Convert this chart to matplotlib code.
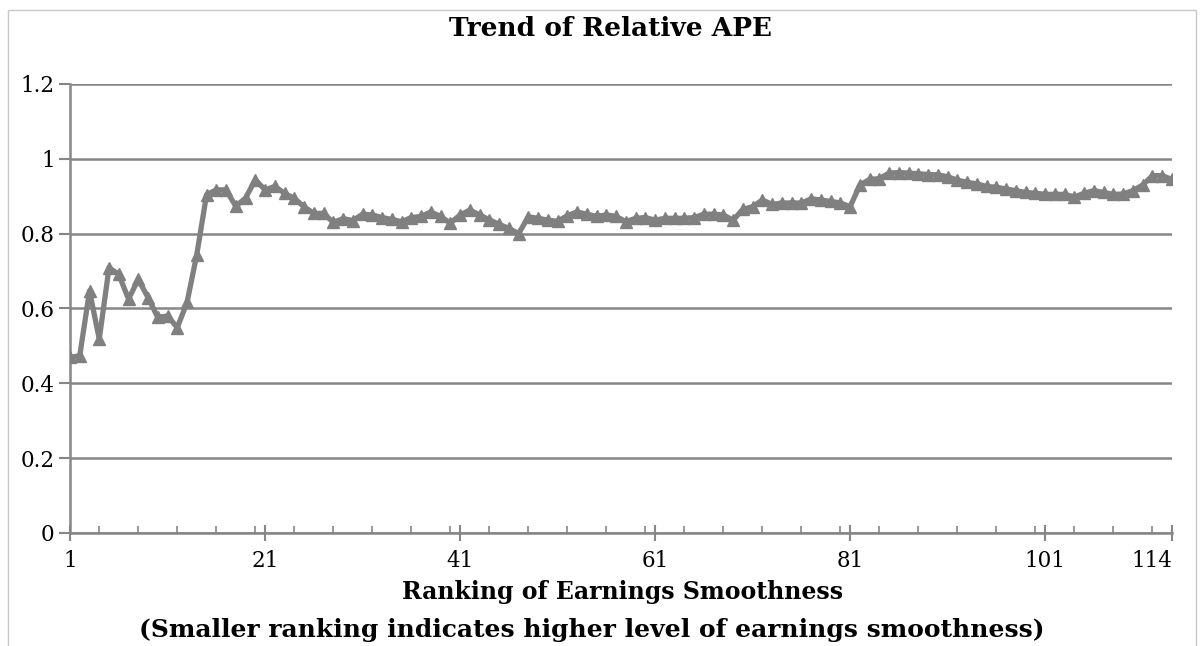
import matplotlib
matplotlib.use("Agg")
import matplotlib.pyplot as plt
from matplotlib.ticker import MultipleLocator
from matplotlib.patches import Rectangle

# relative APE by smoothness ranking (1 = smoothest)
rank = list(range(1, 115))
rel_ape = [
    0.469, 0.474, 0.647, 0.518, 0.709, 0.691, 0.625, 0.678, 0.629, 0.576,
    0.580, 0.549, 0.616, 0.744, 0.904, 0.917, 0.917, 0.873, 0.895, 0.944,
    0.917, 0.926, 0.908, 0.894, 0.872, 0.854, 0.854, 0.830, 0.840, 0.835,
    0.852, 0.850, 0.843, 0.838, 0.832, 0.843, 0.846, 0.858, 0.846, 0.828,
    0.850, 0.863, 0.850, 0.837, 0.825, 0.814, 0.800, 0.845, 0.841, 0.836,
    0.833, 0.848, 0.858, 0.852, 0.846, 0.850, 0.846, 0.832, 0.841, 0.843,
    0.836, 0.841, 0.841, 0.841, 0.843, 0.852, 0.852, 0.850, 0.836, 0.865,
    0.872, 0.890, 0.878, 0.882, 0.882, 0.882, 0.893, 0.890, 0.886, 0.882,
    0.872, 0.930, 0.945, 0.947, 0.962, 0.963, 0.962, 0.960, 0.958, 0.957,
    0.952, 0.943, 0.937, 0.933, 0.926, 0.924, 0.919, 0.915, 0.910, 0.908,
    0.905, 0.905, 0.905, 0.898, 0.908, 0.915, 0.910, 0.905, 0.906, 0.915,
    0.930, 0.955, 0.955, 0.945,
]
xticks = [1, 21, 41, 61, 81, 101, 114]
yticks = [0, 0.2, 0.4, 0.6, 0.8, 1, 1.2]
ytick_labels = ["0", "0.2", "0.4", "0.6", "0.8", "1", "1.2"]

plt.rcParams['font.family'] = ['DejaVu Serif']
grey = '#868686'

fig = plt.figure(figsize=(12.01, 6.46), dpi=100)
ax = fig.add_axes([0.0583, 0.175, 0.9175, 0.695])

# light frame round the chart area
fig.patches.append(Rectangle((8 / 1201, -0.1), 1188 / 1201, 1.1 - 10 / 646,
                             transform=fig.transFigure, fill=False,
                             ec='#c8c8c8', lw=1.0))

ax.plot(rank, rel_ape, color='#808080', lw=3.8, marker='^',
        markersize=9, zorder=3)

ax.set_xlim(1, 114)
ax.set_ylim(0, 1.2)
ax.set_yticks(yticks)
ax.set_yticklabels(ytick_labels)
ax.set_xticks(xticks)
ax.xaxis.set_minor_locator(MultipleLocator(4))
ax.get_xticklabels()[-1].set_horizontalalignment('right')
ax.grid(axis='y', color=grey, lw=1.8)
ax.set_axisbelow(True)

for s in ['top', 'right']:
    ax.spines[s].set_visible(False)
for s in ['left', 'bottom']:
    ax.spines[s].set_color(grey)
    ax.spines[s].set_linewidth(1.8)

ax.tick_params(axis='y', which='major', direction='out', length=8,
               width=1.5, color=grey, labelsize=15.5, pad=3)
ax.tick_params(axis='x', which='major', direction='inout', length=12,
               width=1.5, color=grey, labelsize=15.5, pad=6)
ax.tick_params(axis='x', which='minor', direction='in', length=5,
               width=1.2, color=grey)

fig.text(0.508, 1 - 28 / 646, 'Trend of Relative APE', ha='center',
         va='center', fontsize=19, fontweight='bold')
fig.text(0.518, 1 - 592 / 646, 'Ranking of Earnings Smoothness',
         ha='center', va='center', fontsize=17, fontweight='bold')
fig.text(0.493, 1 - 630 / 646,
         '(Smaller ranking indicates higher level of earnings smoothness)',
         ha='center', va='center', fontsize=18, fontweight='bold')

fig.savefig('out.png', dpi=100)
plt.close(fig)
